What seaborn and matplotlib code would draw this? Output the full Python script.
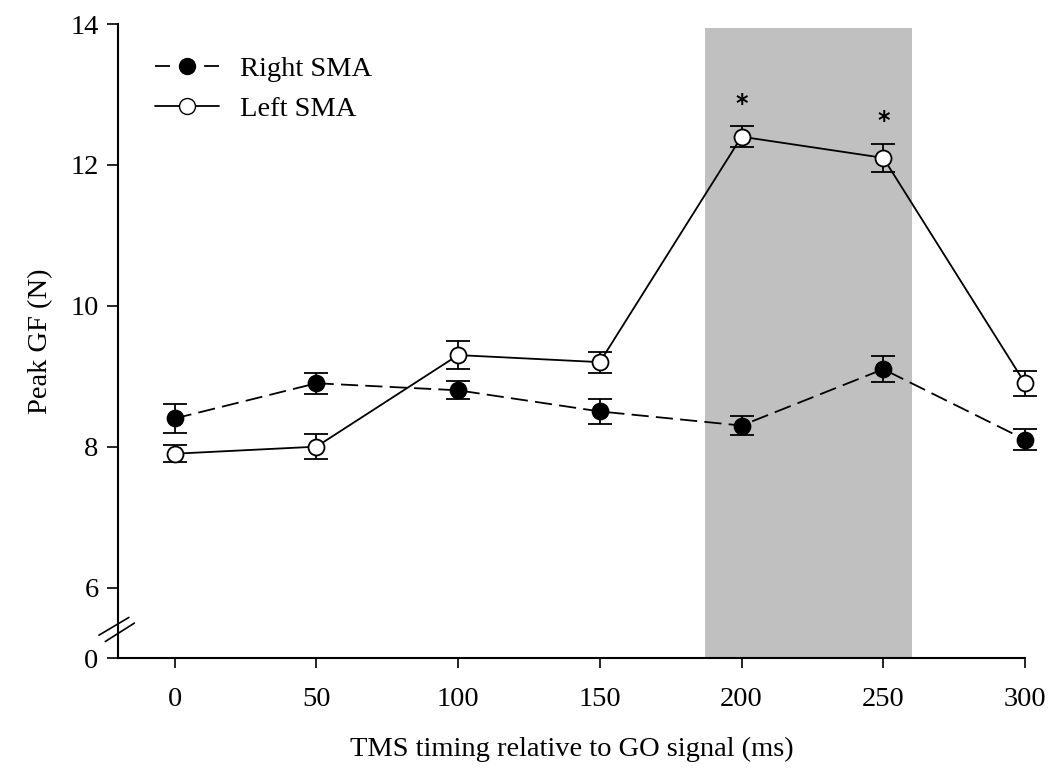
import matplotlib
matplotlib.use("Agg")
import matplotlib.pyplot as plt
import seaborn as sns
import pandas as pd
from matplotlib.lines import Line2D

timing = [0, 50, 100, 150, 200, 250, 300]
right_sma = [8.4, 8.9, 8.8, 8.5, 8.3, 9.1, 8.1]
right_err = [0.2, 0.15, 0.13, 0.18, 0.14, 0.18, 0.15]
left_sma = [7.9, 8.0, 9.3, 9.2, 12.4, 12.1, 8.9]
left_err = [0.12, 0.18, 0.2, 0.15, 0.15, 0.2, 0.18]
series_names = ["Right SMA", "Left SMA"]
y_ticks = [5, 6, 8, 10, 12, 14]
y_ticklabels = ["0", "6", "8", "10", "12", "14"]
x_ticks = [0, 50, 100, 150, 200, 250, 300]
shade_range = [187, 260]
star_points = [200, 250]

sns.set_theme(style="ticks")
plt.rcParams['font.family'] = ['Liberation Serif', 'DejaVu Serif']
plt.rcParams['text.color'] = 'black'
plt.rcParams['axes.labelcolor'] = 'black'
plt.rcParams['xtick.color'] = 'black'
plt.rcParams['ytick.color'] = 'black'

df = pd.DataFrame({
    "timing": timing * 2,
    "gf": right_sma + left_sma,
    "err": right_err + left_err,
    "side": [series_names[0]] * len(timing) + [series_names[1]] * len(timing),
})

fig = plt.figure(figsize=(10.52, 7.76), dpi=100)
ax = fig.add_axes([118 / 1052, 1 - 658 / 776, (1025 - 118) / 1052, (658 - 24) / 776])

ax.axvspan(shade_range[0], shade_range[1], ymin=0, ymax=(13.95 - 5) / 9, color="#c0c0c0", zorder=0, lw=0)

ms = 11.5
styles = {
    series_names[0]: dict(ls=(0, (9.5, 4)), mfc="black"),
    series_names[1]: dict(ls="-", mfc="white"),
}
for name, sub in df.groupby("side", sort=False):
    st = styles[name]
    eb = ax.errorbar(sub["timing"], sub["gf"], yerr=sub["err"], fmt="none", ecolor="black",
                     elinewidth=1.3, capsize=8.5, capthick=1.3, zorder=2)
    for art in eb.lines[1] + eb.lines[2]:
        art.set_clip_on(False)
    sns.lineplot(data=sub, x="timing", y="gf", ax=ax, color="black", lw=1.3,
                 linestyle=st["ls"], marker="o", markersize=ms, markerfacecolor=st["mfc"],
                 markeredgecolor="black", markeredgewidth=1.3, zorder=3, legend=False)
for ln in ax.lines:
    ln.set_clip_on(False)

for xs in star_points:
    i = timing.index(xs)
    ax.text(xs, left_sma[i] + left_err[i] + 0.32, "*", ha="center", va="center", fontsize=17,
            fontweight="bold", family=["DejaVu Sans"])

ax.set_xlim(-20, 300)
ax.set_ylim(5, 14)
ax.set_xticks(x_ticks)
ax.set_xticklabels([str(t) for t in x_ticks])
ax.set_yticks(y_ticks)
ax.set_yticklabels(y_ticklabels)
ax.tick_params(axis="x", direction="out", length=7, width=1.2, labelsize=20.5, pad=14)
ax.tick_params(axis="y", direction="out", length=8, width=1.2, labelsize=20.5, pad=6)
for s in ["top", "right"]:
    ax.spines[s].set_visible(False)
for s in ["left", "bottom"]:
    ax.spines[s].set_linewidth(1.5)
    ax.spines[s].set_color("black")

ax.set_xlabel("TMS timing relative to GO signal (ms)", fontsize=20.5, labelpad=18)
ax.set_ylabel("Peak GF (N)", fontsize=20.5, labelpad=12)

# axis break marks
ax.plot([-0.021, 0.012], [0.036, 0.064], transform=ax.transAxes, color="black", lw=1.2, clip_on=False)
ax.plot([-0.014, 0.018], [0.026, 0.055], transform=ax.transAxes, color="black", lw=1.2, clip_on=False)

handles = [
    Line2D([0], [0], color="black", lw=1.3, ls=(0, (8.3, 18.9)), marker="o", markersize=ms,
           markerfacecolor="black", markeredgecolor="black"),
    Line2D([0], [0], color="black", lw=1.3, ls="-", marker="o", markersize=ms,
           markerfacecolor="white", markeredgecolor="black"),
]
ax.legend(handles, series_names, loc="upper left", bbox_to_anchor=(0.016, 0.986), frameon=False,
          fontsize=20.5, handlelength=2.25, handletextpad=0.72, labelspacing=0.5,
          borderpad=0.3)

fig.savefig("out.png", dpi=100)
